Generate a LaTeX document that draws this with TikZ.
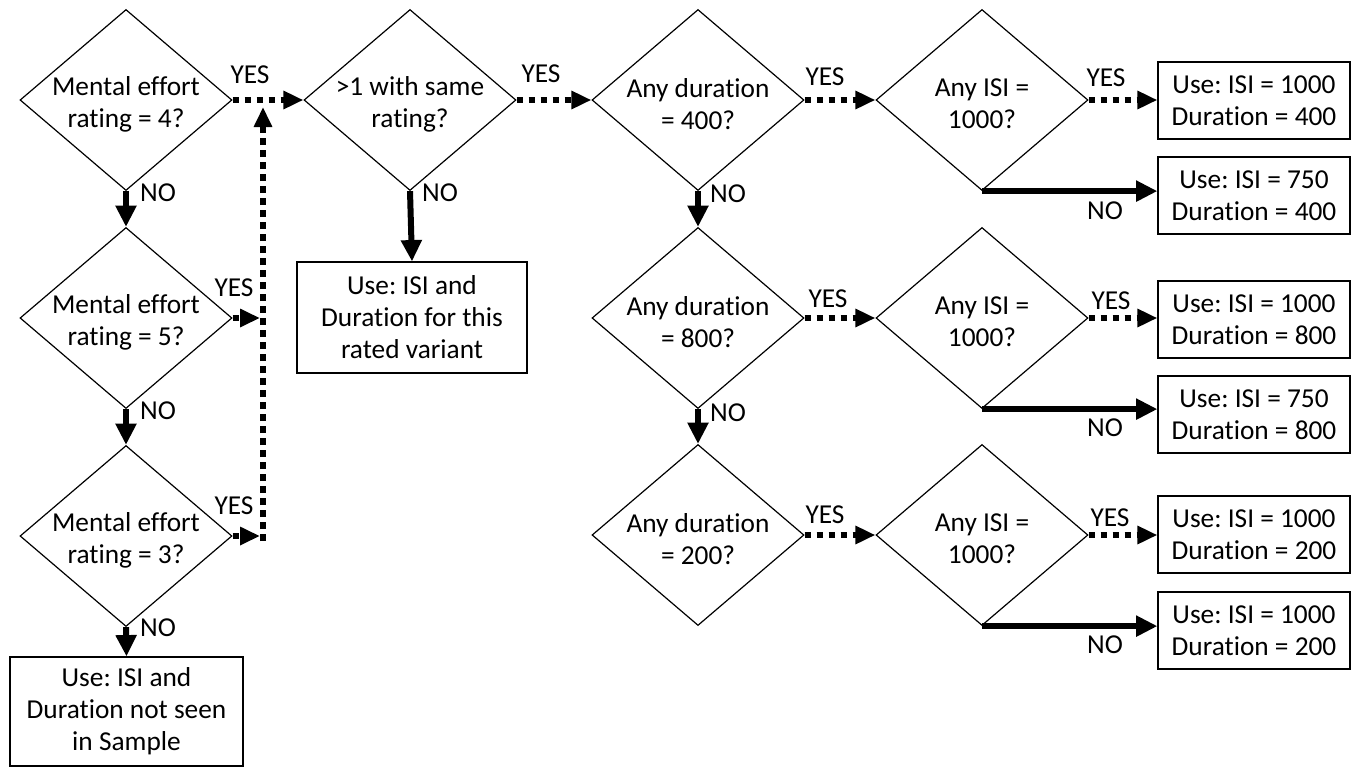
\documentclass[tikz,border=0pt]{standalone}
\usepackage{fontspec}
\setmainfont{Carlito}[Ligatures=NoCommon]
\usetikzlibrary{shapes.geometric,arrows.meta,calc}
\frenchspacing
\begin{document}
\begin{tikzpicture}[x=0.75pt,y=-0.75pt,
  every node/.style={font=\fontsize{20.5}{24}\selectfont\frenchspacing},
  dia/.style={draw,line width=0.9pt,shape=diamond,inner sep=0pt,minimum width=159pt,minimum height=135.75pt},
  txt/.style={align=center,inner sep=0pt,yshift=-3pt},
  rbox/.style={draw,line width=0.9pt,align=center,inner sep=0pt,minimum width=144pt,minimum height=57.75pt},
  bigbox/.style={draw,line width=0.9pt,align=center,inner sep=0pt,minimum width=173pt,minimum height=82.5pt},
  lbl/.style={inner sep=0pt},
  yesarr/.style={line width=4.5pt,line cap=butt,dash pattern=on 5pt off 4pt,-{Triangle[length=15pt,width=13pt]}},
  noarr/.style={line width=4.5pt,-{Triangle[length=16pt,width=15pt]}}
]
\useasboundingbox (0,0) rectangle (1359,768);

% diamonds
\node[dia] (m1) at (126,100) {};
\node[dia] (m2) at (126,318) {};
\node[dia] (m3) at (126,536) {};
\node[dia] (r)  at (410,100) {};
\node[dia] (d4) at (698,100) {};
\node[dia] (d8) at (698,318) {};
\node[dia] (d2) at (698,535) {};
\node[dia] (i4) at (982,100) {};
\node[dia] (i8) at (982,318) {};
\node[dia] (i2) at (982,535) {};

\node[txt] (m1t) at (m1) {Mental effort\\rating = 4?};
\node[txt] (m2t) at (m2) {Mental effort\\rating = 5?};
\node[txt] (m3t) at (m3) {Mental effort\\rating = 3?};
\node[txt] (rt)  at (r)  {>1 with same\\rating?};
\node[txt] (d4t) at (d4) {Any duration\\= 400?};
\node[txt] (d8t) at (d8) {Any duration\\= 800?};
\node[txt] (d2t) at (d2) {Any duration\\= 200?};
\node[txt] (i4t) at (i4) {Any ISI =\\1000?};
\node[txt] (i8t) at (i8) {Any ISI =\\1000?};
\node[txt] (i2t) at (i2) {Any ISI =\\1000?};

% boxes
\node[bigbox,minimum width=174.75pt,minimum height=81.75pt] (bL) at (126.5,711.5) {Use: ISI and\\Duration not seen\\in Sample};
\node[bigbox,minimum width=172.5pt,minimum height=83.25pt] (bM) at (412,317.5) {Use: ISI and\\Duration for this\\rated variant};
\node[rbox] (b4y) at (1254,100.5) {Use: ISI = 1000\\Duration = 400};
\node[rbox] (b4n) at (1254,195.5) {Use: ISI = 750\\Duration = 400};
\node[rbox] (b8y) at (1254,319.5) {Use: ISI = 1000\\Duration = 800};
\node[rbox] (b8n) at (1254,414.5) {Use: ISI = 750\\Duration = 800};
\node[rbox] (b2y) at (1254,534.5) {Use: ISI = 1000\\Duration = 200};
\node[rbox] (b2n) at (1254,630.5) {Use: ISI = 1000\\Duration = 200};

% vertical collector line
\coordinate (vb) at (263,541);
\coordinate (vt) at (263,107);

% YES arrows
\draw[yesarr] (m1.east) -- (r.west);
\draw[yesarr] (r.east) -- (d4.west);
\draw[yesarr] (d4.east) -- (i4.west);
\draw[yesarr] (d8.east) -- (i8.west);
\draw[yesarr] (d2.east) -- (i2.west);
\draw[yesarr] (i4.east) -- (i4.east -| b4y.west);
\draw[yesarr] (i8.east) -- (i8.east -| b8y.west);
\draw[yesarr] (i2.east) -- (i2.east -| b2y.west);
\draw[yesarr] (vb) -- (vt);
\draw[yesarr] (m2.east) -- ($(m2.east -| vt)+(-3,0)$);
\draw[yesarr] (m3.east) -- ($(m3.east -| vt)+(-3,0)$);

% NO arrows
\draw[noarr] (m1.south) -- (m2.north);
\draw[noarr] (m2.south) -- (m3.north);
\draw[noarr] (m3.south) -- (bL.north);
\draw[noarr] (r.south) -- (bM.north);
\draw[noarr] (d4.south) -- (d8.north);
\draw[noarr] (d8.south) -- (d2.north);
\draw[noarr] (i4.south) -- (i4.south -| b4n.west);
\draw[noarr] (i8.south) -- (i8.south -| b8n.west);
\draw[noarr] (i2.south) -- (i2.south -| b2n.west);

% labels
\node[lbl] (y1) at (250,75) {YES};
\node[lbl] (y2) at (541,74) {YES};
\node[lbl] (y3) at (825,77) {YES};
\node[lbl] (y4) at (1106,78) {YES};
\node[lbl] (y5) at (234,288) {YES};
\node[lbl] (y6) at (828,299) {YES};
\node[lbl] (y7) at (1111,301) {YES};
\node[lbl] (y8) at (234,506) {YES};
\node[lbl] (y9) at (825,515) {YES};
\node[lbl] (y10) at (1110,518) {YES};

\node[lbl] (n1) at (158,193) {NO};
\node[lbl] (n2) at (158,411) {NO};
\node[lbl] (n3) at (158,628) {NO};
\node[lbl] (n4) at (440,193) {NO};
\node[lbl] (n5) at (728,194) {NO};
\node[lbl] (n6) at (728,413) {NO};
\node[lbl] (n7) at (1105,211) {NO};
\node[lbl] (n8) at (1105,428) {NO};
\node[lbl] (n9) at (1105,645) {NO};
\end{tikzpicture}
\end{document}
